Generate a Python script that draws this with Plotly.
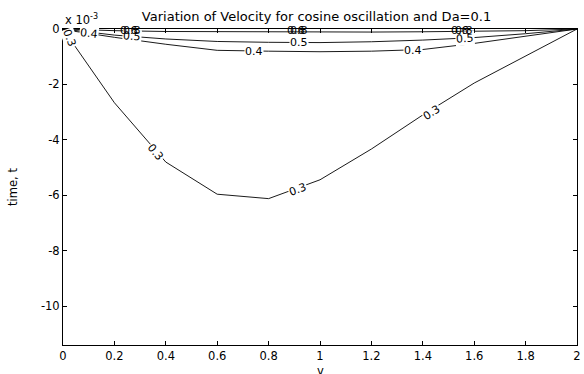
import plotly.graph_objects as go

# grid positions along y (horizontal axis)
y_grid = [0.0, 0.2, 0.4, 0.6, 0.8, 1.0, 1.2, 1.4, 1.6, 1.8, 2.0]
# contour lines: time values (x 10^-3) at each grid position
c03 = [0.0, -2.66, -4.8, -5.96, -6.12, -5.44, -4.33, -3.1, -1.95, -0.98, 0.0]
c04 = [-0.02, -0.3, -0.55, -0.77, -0.8, -0.82, -0.8, -0.74, -0.52, -0.27, 0.0]
c05 = [0.0, -0.22, -0.36, -0.45, -0.48, -0.49, -0.46, -0.4, -0.31, -0.17, 0.0]
c06 = [0.0, -0.06, -0.09, -0.1, -0.11, -0.11, -0.11, -0.1, -0.09, -0.06, 0.0]
contours = [c03, c04, c05, c06]

# inline contour labels: text, y position, time position, angle
lab_text = ["0.3", "0.3", "0.3", "0.3", "0.4", "0.4", "0.4", "0.5", "0.5", "0.5",
            "0.6", "0.8", "0.6", "0.8", "0.6", "0.8"]
lab_x = [0.025, 0.359, 0.915, 1.436, 0.1, 0.745, 1.36, 0.27, 0.92, 1.565,
         0.255, 0.27, 0.905, 0.92, 1.545, 1.56]
lab_y = [-0.35, -4.47, -5.8, -3.02, -0.17, -0.8, -0.77, -0.28, -0.48, -0.33,
         -0.06, -0.05, -0.06, -0.05, -0.06, -0.05]
lab_ang = [70, 50, -20, -33, 6, 0, 0, 4, 0, -4, 0, 0, 0, 0, 0, 0]

x_ticks = [0, 0.2, 0.4, 0.6, 0.8, 1, 1.2, 1.4, 1.6, 1.8, 2]
x_ticktext = ["0", "0.2", "0.4", "0.6", "0.8", "1", "1.2", "1.4", "1.6", "1.8", "2"]
y_ticks = [-10, -8, -6, -4, -2, 0]
y_ticktext = ["-10", "-8", "-6", "-4", "-2", "0"]

FONT = "DejaVu Sans, Arial, sans-serif"

fig = go.Figure()
for c in contours:
    fig.add_trace(go.Scatter(x=y_grid, y=c, mode="lines",
                             line=dict(color="black", width=0.9),
                             showlegend=False, hoverinfo="skip"))

for t, x, y, a in zip(lab_text, lab_x, lab_y, lab_ang):
    bg = "white" if a != 0 or y < -0.15 else "rgba(0,0,0,0)"
    fig.add_annotation(x=x, y=y, text=t, showarrow=False, textangle=a,
                       font=dict(family=FONT, size=11, color="black"),
                       bgcolor=bg, borderpad=0, xanchor="center", yanchor="middle")

fig.add_annotation(x=0, y=1, xref="paper", yref="paper", text="x 10<sup>-3</sup>",
                   showarrow=False, xanchor="left", yanchor="bottom",
                   font=dict(family=FONT, size=11.5, color="black"), yshift=0)
fig.add_annotation(x=0.5, y=0, xref="paper", yref="paper", text="y",
                   showarrow=False, xanchor="center", yanchor="top", yshift=-17,
                   font=dict(family=FONT, size=11.5, color="black"))

fig.update_layout(
    width=584, height=374,
    margin=dict(l=63, r=7, t=29, b=29),
    paper_bgcolor="white", plot_bgcolor="white",
    title=dict(text="Variation of Velocity for cosine oscillation and Da=0.1",
               x=0.542, xanchor="center", y=0.955, yanchor="middle",
               font=dict(family=FONT, size=13, color="black")),
    xaxis=dict(range=[0, 2], tickvals=x_ticks, ticktext=x_ticktext,
               showline=True, linecolor="black", linewidth=1, mirror="allticks",
               ticks="inside", ticklen=4, tickcolor="black", showgrid=False,
               zeroline=False, automargin=False,
               tickfont=dict(family=FONT, size=11.5, color="black")),
    yaxis=dict(range=[-11.4, 0], tickvals=y_ticks, ticktext=y_ticktext,
               showline=True, linecolor="black", linewidth=1, mirror="allticks",
               ticks="inside", ticklen=4, tickcolor="black", showgrid=False,
               zeroline=False, automargin=False,
               title=dict(text="time, t", standoff=20,
                          font=dict(family=FONT, size=11.5, color="black")),
               tickfont=dict(family=FONT, size=11.5, color="black")),
)

fig.write_html("out.html", config={"displayModeBar": False},
               post_script="document.body.style.margin='0';document.body.style.overflow='hidden';")
